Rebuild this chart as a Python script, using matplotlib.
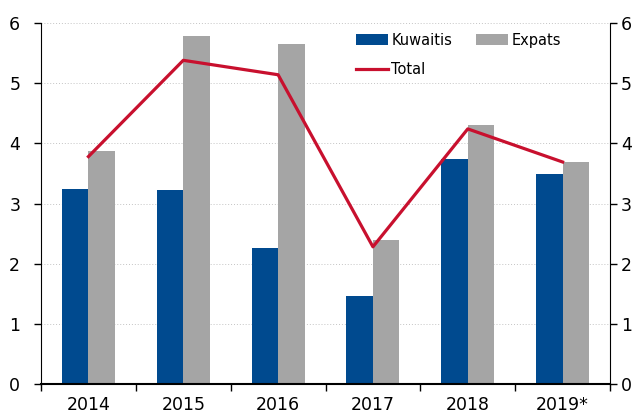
import numpy as np
import matplotlib
matplotlib.use("Agg")
import matplotlib.pyplot as plt

plt.rcParams["font.family"] = ["DejaVu Sans"]

# 데이터
years = ["2014", "2015", "2016", "2017", "2018", "2019*"]
kuwaitis = [3.24, 3.22, 2.26, 1.47, 3.74, 3.49]
expats = [3.87, 5.78, 5.65, 2.40, 4.30, 3.69]
total = [3.78, 5.38, 5.14, 2.28, 4.24, 3.69]

BLUE = "#004A8F"
GREY = "#A5A5A5"
RED = "#C8102E"

fig = plt.figure(figsize=(6.43, 4.16), dpi=100)
ax = fig.add_axes([0.0638, 0.0769, 0.8849, 0.8678])

x = np.arange(len(years))
w = 0.28
b1 = ax.bar(x - w / 2, kuwaitis, width=w, color=BLUE, label="Kuwaitis", zorder=2)
b2 = ax.bar(x + w / 2, expats, width=w, color=GREY, label="Expats", zorder=2)
ln, = ax.plot(x, total, color=RED, linewidth=2.3, label="Total", zorder=3)

ax.set_xlim(-0.5, len(years) - 0.5)
ax.set_ylim(0, 6)
ax.set_yticks(range(7))
ax.grid(axis="y", color="#C4C4C4", linestyle=(0, (1, 2)), linewidth=0.7, zorder=0)

# x축: 라벨은 가운데, 틱은 경계
ax.set_xticks(x)
ax.set_xticklabels(years, fontsize=12.5)
ax.set_xticks(np.arange(-0.5, len(years)), minor=True)
ax.tick_params(axis="x", which="major", length=0, pad=8.5)
ax.tick_params(axis="x", which="minor", length=5, width=1, direction="out")
ax.tick_params(axis="y", labelsize=12.5, length=5, width=1, direction="out", pad=10)

ax.spines["top"].set_visible(False)
ax.spines["right"].set_visible(False)
ax.spines["bottom"].set_linewidth(1.5)

ax2 = ax.twinx()
ax2.set_ylim(0, 6)
ax2.set_yticks(range(7))
ax2.tick_params(axis="y", labelsize=12.5, length=5, width=1, direction="out", pad=3)
ax2.spines["top"].set_visible(False)
ax2.spines["left"].set_visible(False)
ax2.spines["bottom"].set_visible(False)

ax.legend(handles=[b1, ln, b2], labels=["Kuwaitis", "Total", "Expats"],
          ncol=2, frameon=False, fontsize=10.5, loc="upper left",
          bbox_to_anchor=(0.53, 1.01), handlelength=2.2, handletextpad=0.25,
          columnspacing=1.6, labelspacing=1.0)

fig.savefig("out.png", dpi=100)
